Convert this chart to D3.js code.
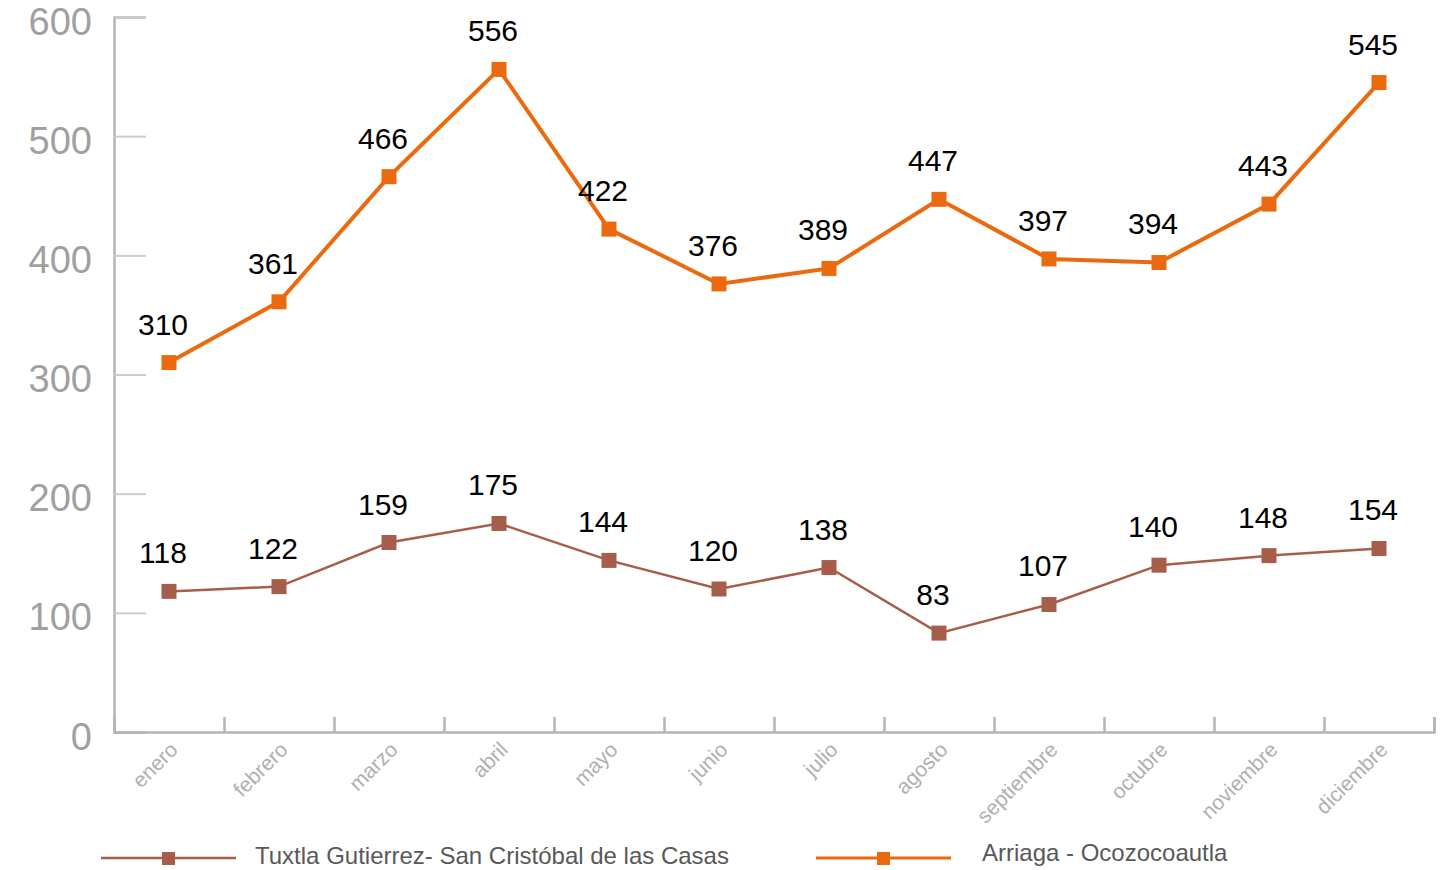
<!DOCTYPE html>
<html>
<head>
<meta charset="utf-8">
<script src="https://cdn.jsdelivr.net/npm/d3@7"></script>
<style>
  body { margin: 0; background: #fff; }
  text { font-family: "Liberation Sans", Arial, sans-serif; }
</style>
</head>
<body>
<div id="svg-container"></div>
<script>
// months on the x axis
var months = ["enero", "febrero", "marzo", "abril", "mayo", "junio", "julio",
              "agosto", "septiembre", "octubre", "noviembre", "diciembre"];

// series values
var tuxtlaValues  = [118, 122, 159, 175, 144, 120, 138, 83, 107, 140, 148, 154];
var arriagaValues = [310, 361, 466, 556, 422, 376, 389, 447, 397, 394, 443, 545];

var seriesNames = ["Tuxtla Gutierrez- San Cristóbal de las Casas", "Arriaga - Ocozocoautla"];
var yTicks = [0, 100, 200, 300, 400, 500, 600];

// layout
var svgWidth   = 1444;
var svgHeight  = 870;
var plotLeft   = 114;
var plotRight  = 1434;
var plotTop    = 17;
var plotBottom = 732;

var svg = d3.select("#svg-container")
            .append("svg")
            .attr("width", svgWidth)
            .attr("height", svgHeight);

// scales
var xScale = d3.scaleBand()
               .domain(months)
               .range([plotLeft, plotRight]);

var xEdge = d3.scaleLinear()
              .domain([0, months.length])
              .range([plotLeft, plotRight]);

var yScale = d3.scaleLinear()
               .domain([0, 600])
               .range([plotBottom, plotTop]);

function xMid(i) { return xScale(months[i]) + xScale.bandwidth() / 2; }

// y axis: ticks point inward
var yAxis = d3.axisLeft(yScale)
              .tickValues(yTicks)
              .tickSize(-32)
              .tickPadding(22);

var yAxisGroup = svg.append("g")
                    .attr("transform", "translate(" + plotLeft + ",0)")
                    .call(yAxis);
yAxisGroup.select(".domain").attr("stroke", "#b4b4b4").attr("stroke-width", 2.5);
yAxisGroup.selectAll(".tick line").attr("stroke", "#cccccc").attr("stroke-width", 2);
yAxisGroup.selectAll(".tick text")
          .attr("font-size", 38)
          .attr("fill", "#a0a0a0")
          .attr("dy", "0.45em");

// x axis: ticks at band edges, going up
var xAxis = d3.axisBottom(xEdge)
              .tickValues(d3.range(1, months.length + 1))
              .tickSize(-15)
              .tickFormat("");

var xAxisGroup = svg.append("g")
                    .attr("transform", "translate(0," + plotBottom + ")")
                    .call(xAxis);
xAxisGroup.select(".domain").attr("stroke", "#b4b4b4").attr("stroke-width", 2.5);
xAxisGroup.selectAll(".tick line").attr("stroke", "#b4b4b4").attr("stroke-width", 2.5);

// month labels
svg.append("g")
   .selectAll("text")
   .data(months)
   .enter()
   .append("text")
   .attr("transform", function(d, i) {
     return "translate(" + (xMid(i) + 10) + "," + (plotBottom + 19) + ") rotate(-45)";
   })
   .attr("text-anchor", "end")
   .attr("font-size", 21)
   .attr("fill", "#b0b0b0")
   .text(function(d) { return d; });

// draw one series
function drawSeries(values, color, width) {
  var line = d3.line()
               .x(function(d, i) { return xMid(i); })
               .y(function(d) { return yScale(d); });

  var g = svg.append("g");

  g.append("path")
   .datum(values)
   .attr("d", line)
   .attr("fill", "none")
   .attr("stroke", color)
   .attr("stroke-width", width)
   .attr("stroke-linejoin", "miter");

  g.selectAll("rect")
   .data(values)
   .enter()
   .append("rect")
   .attr("x", function(d, i) { return xMid(i) - 7.5; })
   .attr("y", function(d) { return yScale(d) - 7.5; })
   .attr("width", 15)
   .attr("height", 15)
   .attr("fill", color);

  // value labels sit above each point
  g.selectAll("text")
   .data(values)
   .enter()
   .append("text")
   .attr("x", function(d, i) { return xMid(i) - 6; })
   .attr("y", function(d) { return yScale(d) - 28; })
   .attr("text-anchor", "middle")
   .attr("font-size", 30)
   .attr("fill", "#000")
   .text(function(d) { return d; });
}

drawSeries(tuxtlaValues, "#a65e4a", 2.5);
drawSeries(arriagaValues, "#eb6a0f", 4);

// legend
var legendColors = ["#a65e4a", "#eb6a0f"];
var legendWidths = [2.5, 3];
var legendX = [101, 816];
var legendTextY = [864, 861];

seriesNames.forEach(function(name, i) {
  var lg = svg.append("g");
  lg.append("line")
    .attr("x1", legendX[i]).attr("x2", legendX[i] + 135)
    .attr("y1", 858).attr("y2", 858)
    .attr("stroke", legendColors[i])
    .attr("stroke-width", legendWidths[i]);
  lg.append("rect")
    .attr("x", legendX[i] + 61).attr("y", 852)
    .attr("width", 13).attr("height", 13)
    .attr("fill", legendColors[i]);
  lg.append("text")
    .attr("x", legendX[i] + (i === 0 ? 154 : 166))
    .attr("y", legendTextY[i])
    .attr("font-size", 24)
    .attr("fill", "#595959")
    .text(name);
});
</script>
</body>
</html>
